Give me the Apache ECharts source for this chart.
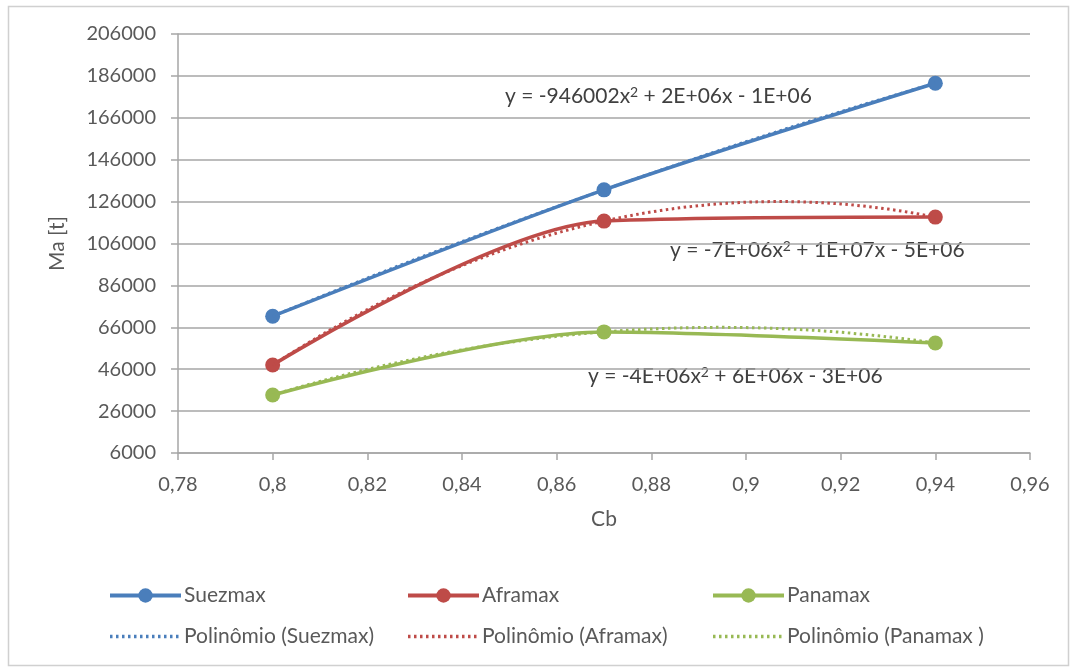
<!DOCTYPE html>
<html>
<head>
<meta charset="utf-8">
<script src="https://cdn.jsdelivr.net/npm/echarts@6/dist/echarts.min.js"></script>
<style>
  html, body { margin: 0; padding: 0; background: #fff; }
  #chart { width: 1073px; height: 671px; }
</style>
</head>
<body>
<div id="chart"></div>
<script>
// Block coefficient (Cb) of each ship class
const cb = [0.8, 0.87, 0.94];
// Deadweight Ma [t] per class
const suezmax = [71300, 131600, 182500];
const aframax = [48000, 116700, 118600];
const panamax = [33700, 63800, 58500];

const seriesNames = ['Suezmax', 'Aframax', 'Panamax'];
const trendNames = ['Polinômio (Suezmax)', 'Polinômio (Aframax)', 'Polinômio (Panamax )'];
// Trendline equations; {s|2} renders the exponent raised
const equations = [
  'y = -946002x{s|2} + 2E+06x - 1E+06',
  'y = -7E+06x{s|2} + 1E+07x - 5E+06',
  'y = -4E+06x{s|2} + 6E+06x - 3E+06'
];
const colors = ['#4A7EBB', '#BE4B48', '#98B954'];

// Least-squares quadratic trend (order 2) through the measured points
function quadFit(xs, ys) {
  const n = xs.length;
  let s = [0, 0, 0, 0, 0], t = [0, 0, 0];
  for (let i = 0; i < n; i++) {
    for (let k = 0; k < 5; k++) s[k] += Math.pow(xs[i], k);
    for (let k = 0; k < 3; k++) t[k] += ys[i] * Math.pow(xs[i], k);
  }
  const M = [[s[0], s[1], s[2], t[0]], [s[1], s[2], s[3], t[1]], [s[2], s[3], s[4], t[2]]];
  for (let c = 0; c < 3; c++) {
    for (let r = c + 1; r < 3; r++) {
      const f = M[r][c] / M[c][c];
      for (let k = c; k < 4; k++) M[r][k] -= f * M[c][k];
    }
  }
  const b = [0, 0, 0];
  for (let r = 2; r >= 0; r--) {
    let v = M[r][3];
    for (let k = r + 1; k < 3; k++) v -= M[r][k] * b[k];
    b[r] = v / M[r][r];
  }
  return x => b[0] + b[1] * x + b[2] * x * x;
}

function trendPoints(xs, ys) {
  const f = quadFit(xs, ys);
  const pts = [];
  const x0 = xs[0], x1 = xs[xs.length - 1];
  const steps = 70;
  for (let i = 0; i <= steps; i++) {
    const x = x0 + (x1 - x0) * i / steps;
    pts.push([x, f(x)]);
  }
  return pts;
}

const allData = [suezmax, aframax, panamax];
const textColor = '#595959';
const fontFamily = 'Lato, "Open Sans", sans-serif';

const series = [];
allData.forEach((vals, i) => {
  series.push({
    name: seriesNames[i],
    type: 'line',
    data: cb.map((x, j) => [x, vals[j]]),
    smooth: 0.3,
    symbol: 'circle',
    symbolSize: 15,
    lineStyle: { color: colors[i], width: 3.5 },
    itemStyle: { color: colors[i] },
    z: 2
  });
});
allData.forEach((vals, i) => {
  series.push({
    name: trendNames[i],
    type: 'line',
    data: trendPoints(cb, vals),
    symbol: 'none',
    smooth: false,
    lineStyle: { color: colors[i], width: 3, type: [2.5, 3.5] },
    itemStyle: { color: colors[i] },
    z: 3
  });
});

const legendLefts = [103, 401, 706];

function equationText(str, left, top) {
  return {
    type: 'text', left: left, top: top,
    style: {
      text: str, fontSize: 21, fill: '#404040', fontFamily: fontFamily,
      rich: {
        s: { fontSize: 14, fill: '#404040', fontFamily: fontFamily, verticalAlign: 'top', padding: [0, 0, 8, 0] }
      }
    }
  };
}

const chart = echarts.init(document.getElementById('chart'));
chart.setOption({
  backgroundColor: '#fff',
  animation: false,
  textStyle: { fontFamily: fontFamily },
  grid: { left: 178, right: 43, top: 34, bottom: 218, containLabel: false },
  xAxis: {
    type: 'value',
    min: 0.78, max: 0.96, interval: 0.02,
    name: 'Cb',
    nameLocation: 'middle',
    nameGap: 56,
    nameTextStyle: { fontSize: 21, color: textColor, fontFamily: fontFamily },
    axisLine: { show: true, lineStyle: { color: '#A6A6A6', width: 1.5 } },
    axisTick: { show: true, length: 7, lineStyle: { color: '#A6A6A6', width: 1.5 } },
    splitLine: { show: false },
    axisLabel: {
      fontSize: 20, color: textColor, margin: 22, fontFamily: fontFamily,
      formatter: v => String(+v.toFixed(2)).replace('.', ',')
    }
  },
  yAxis: {
    type: 'value',
    min: 6000, max: 206000, interval: 20000,
    name: 'Ma [t]',
    nameLocation: 'middle',
    nameGap: 110,
    nameTextStyle: { fontSize: 21, color: textColor, fontFamily: fontFamily },
    axisLine: { show: true, lineStyle: { color: '#A6A6A6', width: 1.5 } },
    axisTick: { show: true, length: 7, lineStyle: { color: '#A6A6A6', width: 1.5 } },
    splitLine: { show: true, lineStyle: { color: '#A6A6A6', width: 1.5 } },
    axisLabel: { fontSize: 20, color: textColor, margin: 22, fontFamily: fontFamily, formatter: v => String(v) }
  },
  legend: [0, 1, 2].map(i => ({
    orient: 'vertical',
    left: legendLefts[i], top: 580,
    itemWidth: 71,
    itemHeight: 18,
    itemGap: 20,
    textStyle: { fontSize: 21, color: textColor, fontFamily: fontFamily, padding: [0, 0, 0, -2] },
    data: [
      { name: seriesNames[i], lineStyle: { width: 4 } },
      { name: trendNames[i], lineStyle: { width: 3.5 }, itemStyle: { opacity: 0 } }
    ]
  })),
  graphic: [
    {
      type: 'rect', silent: true, z: -1,
      shape: { x: 8.5, y: 6.5, width: 1060, height: 659 },
      style: { fill: 'none', stroke: '#D0D0D0', lineWidth: 1.5 }
    },
    equationText(equations[0], 505, 85),
    equationText(equations[1], 670, 239),
    equationText(equations[2], 588, 365)
  ],
  series: series
});
</script>
</body>
</html>
